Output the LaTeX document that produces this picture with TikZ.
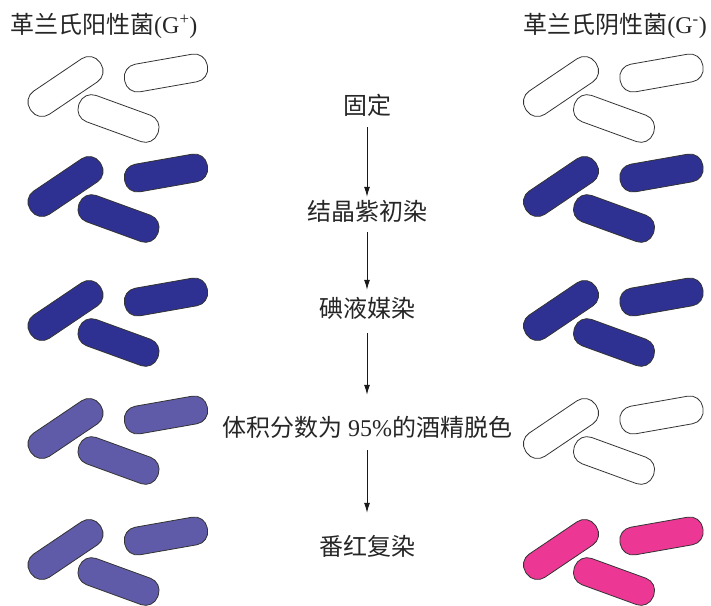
\documentclass[tikz,border=0pt]{standalone}
\usepackage{fontspec}
\setmainfont{Liberation Serif}
\newfontfamily\cjk{Noto Sans CJK SC}
\usetikzlibrary{arrows.meta}
\definecolor{violetdark}{HTML}{2E3192}
\definecolor{violetpale}{HTML}{605BA8}
\definecolor{safranin}{HTML}{EC3894}
\colorlet{rodedge}{black!80}
\colorlet{labelcol}{black!85}
\tikzset{
  rod/.style={draw=rodedge, line width=0.8pt, rounded corners=13pt},
  stage/.style={inner sep=0pt, text height=20pt, text depth=3pt,
    font=\fontsize{24pt}{28pt}\selectfont, text=labelcol},
  title/.style={inner sep=0pt, font=\fontsize{24pt}{28pt}\selectfont, text=labelcol},
  flow/.style={-{Latex[length=10pt,width=6pt]}, line width=1pt, black!90}
}
% three rod-shaped cells; #1,#2 = offset, #3 = fill colour
\newcommand{\rodgroup}[3]{%
  \begin{scope}[shift={(#1,#2)}]
    \foreach \cx/\cy/\ang in {65.5/86.5/34, 166/73/10, 118.5/118.5/-20}
      \draw[rod, fill=#3, shift={(\cx,\cy)}, rotate=\ang] (-42,-14) rectangle (42,14);
  \end{scope}}

\begin{document}
\begin{tikzpicture}[x=1pt, y=-1pt]
  \useasboundingbox (0,0) rectangle (711,605);

  % Column headings.
  \node[title, anchor=west] (gpos) at (10,26) {{\cjk 革兰氏阳性菌}(G\textsuperscript{+})};
  \node[title, anchor=east] (gneg) at (707,26) {{\cjk 革兰氏阴性菌}(G\textsuperscript{-})};

  % Cells after each step: left G+, right G-.
  \foreach \dy/\lcol/\rcol in {0/white/white, 100/violetdark/violetdark,
      224/violetdark/violetdark, 342/violetpale/white, 463/violetpale/safranin} {
    \rodgroup{0}{\dy}{\lcol}
    \rodgroup{495.5}{\dy}{\rcol}
  }

  % Staining steps.
  \node[stage] (fix) at (367,106) {\cjk 固定};
  \node[stage] (crystal) at (367,212) {\cjk 结晶紫初染};
  \node[stage] (iodine) at (367,309) {\cjk 碘液媒染};
  \node[stage] (decolor) at (367,428) {{\cjk 体积分数为} 95\%{\cjk 的酒精脱色}};
  \node[stage] (counter) at (367,547) {\cjk 番红复染};

  \draw[flow, shorten <=9.5pt, shorten >=3.5pt] (fix) -- (crystal);
  \draw[flow, shorten <=8.5pt, shorten >=7.5pt] (crystal) -- (iodine);
  \draw[flow, shorten <=12.5pt, shorten >=21.5pt] (iodine) -- (decolor);
  \draw[flow, shorten <=10.5pt, shorten >=22.5pt] (decolor) -- (counter);

\end{tikzpicture}
\end{document}
